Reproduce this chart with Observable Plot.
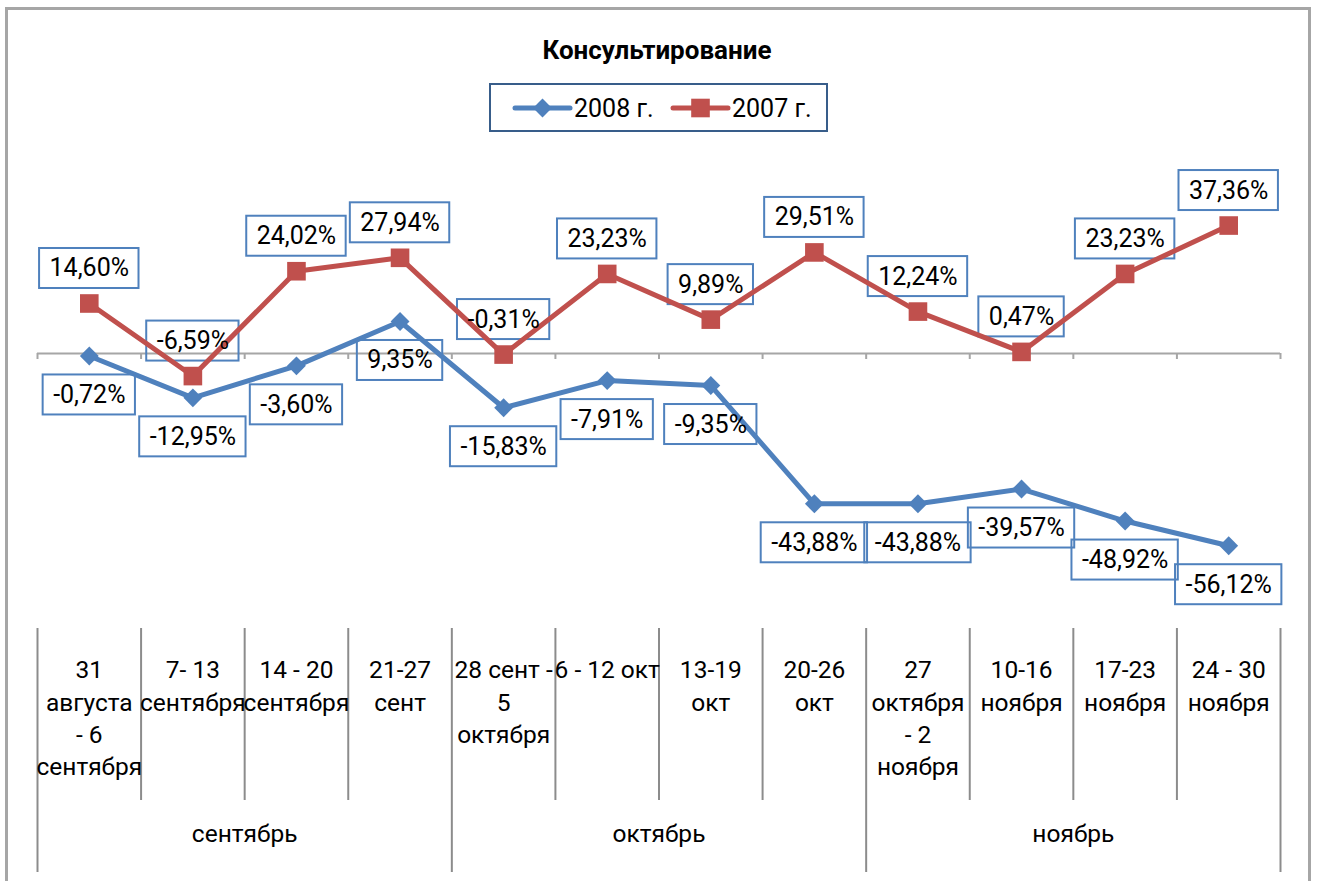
<!DOCTYPE html>
<html>
<head>
<meta charset="utf-8">
<script src="https://cdn.jsdelivr.net/npm/d3@7"></script>
<script src="https://cdn.jsdelivr.net/npm/@observablehq/plot@0.6"></script>
<style>
  html, body { margin: 0; padding: 0; background: #fff; }
  body { width: 1329px; height: 881px; overflow: hidden; position: relative; font-family: Roboto, "Noto Sans", sans-serif; }
  #frame { position: absolute; left: 5px; top: 7px; width: 1300px; height: 900px; border: 3px solid #a6a6a6; border-bottom: none; }
  #title { position: absolute; left: 0; width: 1314px; top: 35px; text-align: center; font-weight: bold; font-size: 26px; line-height: 30px; color: #000; }
  #legend { position: absolute; left: 489px; top: 83px; width: 339px; height: 49px; border: 2px solid #385d8a; box-sizing: border-box; background: #fff; }
  #legend svg { display: block; }
  #chart { position: absolute; left: 0; top: 150px; }
</style>
</head>
<body>
<div id="frame"></div>
<div id="title"></div>
<div id="legend"></div>
<div id="chart"></div>
<script>
// ---------- data ----------
const chartTitle = "Консультирование";
const weekLabels = [
  "31\nавгуста\n- 6\nсентября",
  "7- 13\nсентября",
  "14 - 20\nсентября",
  "21-27\nсент",
  "28 сент -\n5\nоктября",
  "6 - 12 окт",
  "13-19\nокт",
  "20-26\nокт",
  "27\nоктября\n- 2\nноября",
  "10-16\nноября",
  "17-23\nноября",
  "24 - 30\nноября"
];
const monthNames = ["сентябрь", "октябрь", "ноябрь"];
const monthWeeks = [4, 4, 4];
const values2008 = [-0.72, -12.95, -3.60, 9.35, -15.83, -7.91, -9.35, -43.88, -43.88, -39.57, -48.92, -56.12];
const values2007 = [14.60, -6.59, 24.02, 27.94, -0.31, 23.23, 9.89, 29.51, 12.24, 0.47, 23.23, 37.36];
const seriesNames = ["2008 г.", "2007 г."];
const seriesValues = [values2008, values2007];

// ---------- styles / layout ----------
const seriesColors = ["#4F81BD", "#C0504D"];
const seriesSymbols = ["diamond2", "square"];
const seriesSymbolR = [8.5, 10.5];
const labelDy = [39, -35];
const boxStroke = "#4F81BD";
const axisGray = "#a6a6a6";
const sepGray = "#8c8c8c";
const fontSize = 25;
const catFontSize = 24.5;
const W = 1329, H = 731, mt = 66, mb = 254, ml = 37, mr = 49;
const plotH = H - mt - mb;

const fmt = v => v.toFixed(2).replace(".", ",") + "%";

document.getElementById("title").textContent = chartTitle;

// ---------- legend ----------
const leg = d3.select("#legend").append("svg").attr("width", 335).attr("height", 45);
const legX = [24, 182];
const d3Sym = {diamond2: d3.symbolDiamond2, square: d3.symbolSquare};
seriesNames.forEach((name, k) => {
  const g = leg.append("g").attr("transform", `translate(${legX[k]},23)`);
  g.append("line").attr("x1", 0).attr("x2", 55).attr("stroke", seriesColors[k]).attr("stroke-width", 5).attr("stroke-linecap", "round");
  g.append("path").attr("transform", "translate(27.5,0)")
    .attr("d", d3.symbol(d3Sym[seriesSymbols[k]], Math.PI * seriesSymbolR[k] ** 2)())
    .attr("fill", seriesColors[k]);
  g.append("text").attr("x", 59).attr("dy", "0.35em").attr("font-size", fontSize)
    .attr("font-family", "Roboto, sans-serif").attr("fill", "#000").text(name);
});

// ---------- chart ----------
const ctx = document.createElement("canvas").getContext("2d");
ctx.font = `${fontSize}px Roboto`;

const bounds = d3.range(0, weekLabels.length + 1).map(k => k - 0.5);
const monthBounds = [-0.5, ...d3.cumsum(monthWeeks).map(c => c - 0.5)];
const weekBounds = bounds.filter(b => !monthBounds.includes(b));
const monthCenters = monthWeeks.map((n, k) => d3.sum(monthWeeks.slice(0, k)) + (n - 1) / 2);

const marks = [
  Plot.ruleY([0], {stroke: axisGray, strokeWidth: 2}),
  Plot.ruleX(bounds, {x: d => d, y1: 0, y2: 0, insetBottom: -6, stroke: axisGray, strokeWidth: 2}),
  Plot.ruleX(weekBounds, {x: d => d, insetTop: plotH + 1, insetBottom: -173, stroke: sepGray, strokeWidth: 2}),
  Plot.ruleX(monthBounds, {x: d => d, insetTop: plotH + 1, insetBottom: -245, stroke: sepGray, strokeWidth: 2}),
  Plot.text(weekLabels, {x: (d, i) => i, text: d => d, frameAnchor: "bottom", lineAnchor: "top", dy: 28, lineHeight: 1.32, fontSize: catFontSize, fill: "#000"}),
  Plot.text(monthNames, {x: (d, i) => monthCenters[i], text: d => d, frameAnchor: "bottom", dy: 214, fontSize: catFontSize, fill: "#000"})
];

seriesNames.forEach((name, k) => {
  const rows = seriesValues[k].map((v, i) => ({i, v, s: name, label: fmt(v)}));
  rows.forEach(r => {
    const w = ctx.measureText(r.label).width + 20;
    marks.push(Plot.rect([r], {x1: "i", x2: "i", y1: "v", y2: "v", dy: labelDy[k],
      insetLeft: -w / 2, insetRight: -w / 2, insetTop: -20, insetBottom: -20,
      fill: "none", stroke: boxStroke, strokeWidth: 2}));
  });
  marks.push(Plot.line(rows, {x: "i", y: "v", stroke: seriesColors[k], strokeWidth: 5, strokeLinejoin: "round"}));
  marks.push(Plot.dot(rows, {x: "i", y: "v", symbol: seriesSymbols[k], r: seriesSymbolR[k], fill: seriesColors[k], stroke: "none"}));
  marks.push(Plot.text(rows, {x: "i", y: "v", text: "label", dy: labelDy[k], fontSize, fill: "#000"}));
});

const chart = Plot.plot({
  width: W, height: H,
  marginLeft: ml, marginRight: mr, marginTop: mt, marginBottom: mb,
  x: {domain: [-0.5, weekLabels.length - 0.5], axis: null},
  y: {domain: [-80, 40], axis: null},
  style: {fontFamily: "Roboto, sans-serif", background: "transparent", overflow: "visible"},
  marks
});
document.getElementById("chart").appendChild(chart);
</script>
</body>
</html>
